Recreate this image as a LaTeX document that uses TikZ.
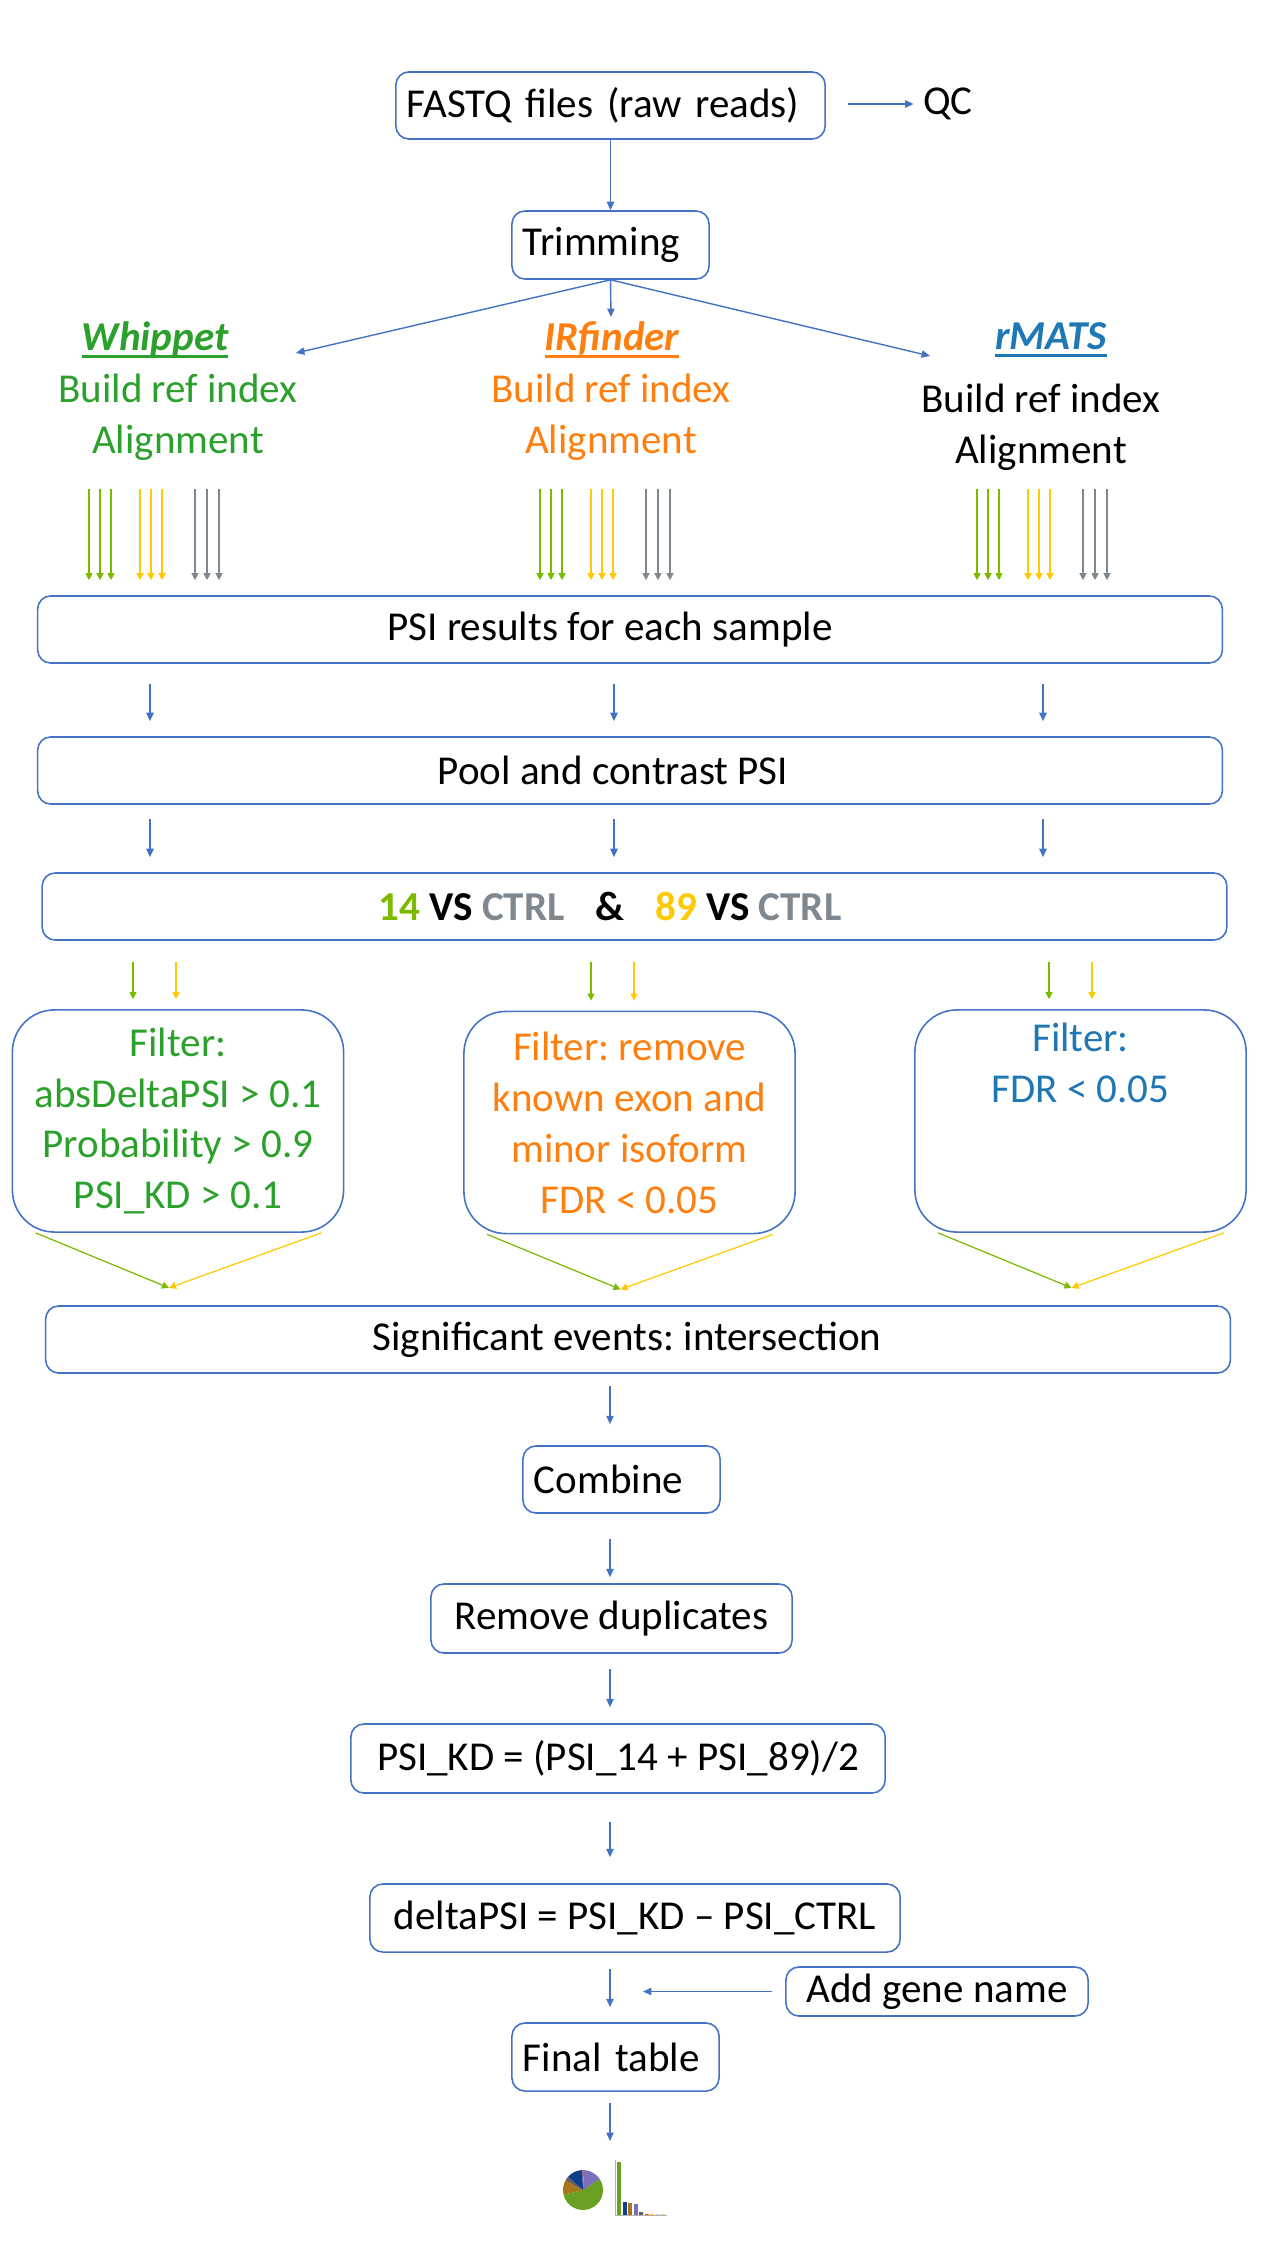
\documentclass[tikz,border=0pt]{standalone}
\usepackage{fontspec}
\setmainfont{Carlito}
\usepackage{xcolor}
\usetikzlibrary{arrows.meta,calc}

\definecolor{boxblue}{RGB}{68,114,196}
\definecolor{wgreen}{RGB}{44,160,44}
\definecolor{iorange}{RGB}{255,127,14}
\definecolor{rblue}{RGB}{31,119,180}
\definecolor{kgreen}{RGB}{124,186,0}
\definecolor{kyellow}{RGB}{255,201,0}
\definecolor{ctrlgray}{RGB}{127,136,143}
\definecolor{pgreen}{RGB}{106,160,34}
\definecolor{ppurple}{RGB}{124,111,190}
\definecolor{pnavy}{RGB}{16,62,140}
\definecolor{pbrown}{RGB}{166,118,29}
\definecolor{pgray}{RGB}{95,95,95}
\definecolor{porange}{RGB}{222,96,30}

\newcommand{\ulword}[1]{\setbox0=\hbox{#1}\rlap{\rule[-0.17em]{\wd0}{0.08em}}\box0}
\frenchspacing

\begin{document}
\begin{tikzpicture}[x=0.01cm,y=-0.01cm,
  font=\fontsize{11.67}{14.5}\selectfont,
  box/.style={draw=boxblue,line width=0.45pt,rounded corners=0.13cm,inner sep=0pt,minimum height=0.68cm},
  lbox/.style={box,align=left,inner xsep=0.11cm},
  wide/.style={box,minimum width=11.84cm,minimum height=0.67cm},
  fbox/.style={draw=boxblue,line width=0.45pt,rounded corners=0.42cm,minimum width=3.31cm,minimum height=2.22cm,align=center,inner sep=0pt},
  head/.style={font=\fontsize{11.67}{14.5}\selectfont\bfseries\itshape},
  barr/.style={boxblue,line width=0.4pt,-{Triangle[length=2.4pt,width=2.1pt]}},
  rarr/.style={line width=0.35pt,-{Triangle[length=2pt,width=2pt]}}]
\useasboundingbox (0,0) rectangle (1265,2249);
% input and trimming
\node[lbox,text width=4.07cm,minimum height=0.67cm] (fastq) at (610.5,105.5) {FASTQ files (raw reads)};
\node[inner xsep=0.09cm,inner ysep=0pt] (qc) at (948,104) {QC};
\coordinate (qcin) at (848,104);
\draw[barr] (qcin) -- (qc);
\node[lbox,text width=1.75cm] (trim) at (610.5,245) {Trimming};
\draw[barr] (fastq) -- (trim);
\coordinate (tw) at (296,353);
\coordinate (ti) at (611,317);
\coordinate (tr) at (930,356);
\foreach \t in {tw,ti,tr} \draw[barr] (trim.south) -- (\t);
% the three tools
\node[head,text=wgreen] (hw) at (155,340) {\ulword{Whippet}};
\node[head,text=iorange] (hi) at (612,340) {\ulword{IRfinder}};
\node[head,text=rblue] (hr) at (1051,340) {\ulword{rMATS}};
\node[align=center,text=wgreen] (sw) at (178,417) {Build ref index\\Alignment};
\node[align=center,text=iorange] (si) at (611,417) {Build ref index\\Alignment};
\node[align=center] (sr) at (1041,427) {Build ref index\\Alignment};
% pooled steps
\node[wide] (psi) at (630,629.5) {\hspace*{-0.4cm}PSI results for each sample};
\node[wide] (pool) at (630,770.5) {\hspace*{-0.34cm}Pool and contrast PSI};
\node[wide] (vs) at (634.5,906.5) {\hspace*{-0.49cm}\bfseries\textcolor{kgreen}{14} VS \textcolor{ctrlgray}{CTRL}\hspace{0.75em}\&\hspace{0.75em}\textcolor{kyellow}{89} VS \textcolor{ctrlgray}{CTRL}};
\foreach \b in {89,540,977}
  \foreach \d/\c in {0/kgreen,11/kgreen,22/kgreen,51/kyellow,62/kyellow,73/kyellow,106/ctrlgray,118/ctrlgray,130/ctrlgray} {
    \pgfmathtruncatemacro{\xx}{\b+\d}
    \draw[rarr,\c,shorten >=0.15cm] (\xx,489) -- (\xx,0 |- psi.north);
  }
\coordinate (cw) at (150,0);
\coordinate (ci) at (614,0);
\coordinate (cr) at (1043,0);
\foreach \c in {cw,ci,cr} {
  \draw[barr,shorten <=0.2cm,shorten >=0.15cm] (psi.south -| \c) -- (pool.north -| \c);
  \draw[barr,shorten <=0.14cm,shorten >=0.15cm] (pool.south -| \c) -- (vs.north -| \c);
}
% filters
\node[fbox,text=wgreen] (fw) at (178,1121) {Filter:\\absDeltaPSI > 0.1\\Probability > 0.9\\PSI\_KD > 0.1};
\node[fbox,text=iorange] (fi) at (629.5,1122.5) {Filter: remove\\known exon and\\minor isoform\\FDR < 0.05};
\node[fbox,text=rblue] (fr) at (1080.5,1121) {Filter:\\FDR < 0.05\\\strut\\\strut};
\foreach \x/\c/\f in {133/kgreen/fw,176/kyellow/fw,591/kgreen/fi,634/kyellow/fi,1049/kgreen/fr,1092/kyellow/fr}
  \draw[rarr,\c,shorten <=0.21cm,shorten >=0.1cm] (\x,0 |- vs.south) -- (\x,0 |- \f.north);
\node[wide] (sig) at (638,1339.5) {\hspace*{-0.22cm}Significant events: intersection};
\foreach \f in {fw,fi,fr} {
  \coordinate (m\f) at ($(\f.south)+(-9,55)$);
  \draw[rarr,kgreen] ($(\f.south west)+(24,0)$) -- (m\f);
  \draw[rarr,kyellow] ($(\f.south east)+(-23,0)$) -- (m\f);
}
% merging
\coordinate (cc) at (610,0);
\node[lbox,text width=1.75cm,minimum height=0.67cm] (comb) at (621.5,1479.5) {Combine};
\node[box,minimum width=3.61cm,minimum height=0.69cm] (rem) at (611.5,1618.5) {Remove duplicates};
\node[box,minimum width=5.34cm,minimum height=0.69cm] (kd) at (618,1758.5) {PSI\_KD = (PSI\_14 + PSI\_89)/2};
\node[box,minimum width=5.30cm] (delta) at (635,1918) {deltaPSI = PSI\_KD – PSI\_CTRL};
\node[box,minimum width=3.02cm,minimum height=0.49cm] (gene) at (937,1991.5) {Add gene name};
\node[lbox,text width=1.85cm] (final) at (615.5,2057) {Final table};
\draw[barr,shorten <=0.12cm,shorten >=0.21cm] (sig.south -| cc) -- (comb.north -| cc);
\draw[barr,shorten <=0.25cm,shorten >=0.06cm] (comb.south -| cc) -- (rem.north -| cc);
\draw[barr,shorten <=0.15cm,shorten >=0.16cm] (rem.south -| cc) -- (kd.north -| cc);
\draw[barr,shorten <=0.28cm,shorten >=0.26cm] (kd.south -| cc) -- (delta.north -| cc);
\draw[barr,shorten <=0.16cm,shorten >=0.15cm] (delta.south -| cc) -- (final.north -| cc);
\coordinate (gin) at (643,0 |- gene.west);
\draw[barr,shorten <=0.13cm] (gene.west) -- (gin);
\coordinate (chartin) at (610,2141);
\draw[barr,shorten <=0.11cm] (final.south -| cc) -- (chartin);
% small charts
\begin{scope}[shift={(583,2190)}]
  \foreach \a/\b/\c in {-92/-87/porange,-87/-33/ppurple,-33/166/pgreen,166/210/pbrown,210/222/pgray,222/268/pnavy}
    \fill[\c] (0,0) -- (\a:20) arc[start angle=\a,end angle=\b,radius=20] -- cycle;
\end{scope}
\draw[black!30,line width=0.2pt] (615,2160) -- (615,2215) -- (667,2215);
\foreach \x/\h/\c in {617/53/pgreen,622.5/13/pnavy,628/12/pbrown,633.5/11/ppurple,639/3/pgray,644.5/1.5/porange,650/0.6/kyellow,655.5/0.6/ppurple!40,661/0.6/porange!40}
  \fill[\c] (\x,2215) rectangle ++(4,-\h);
\end{tikzpicture}
\end{document}
